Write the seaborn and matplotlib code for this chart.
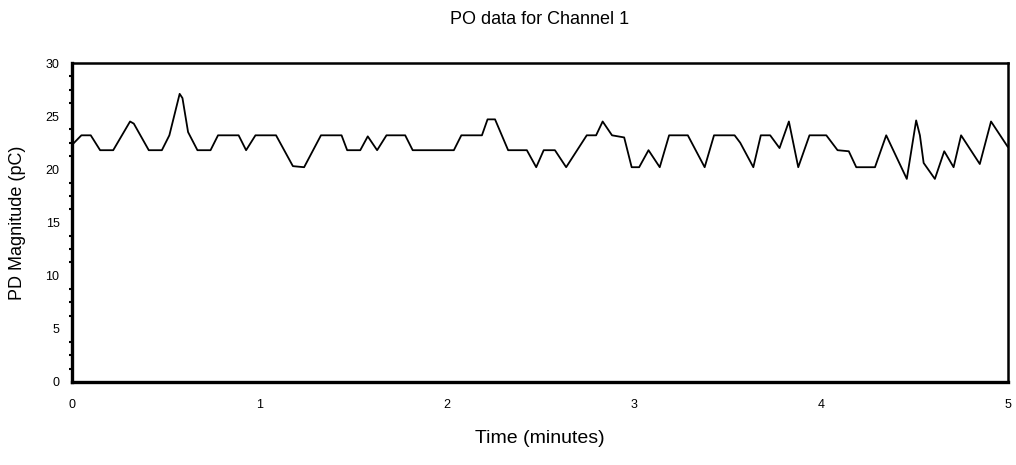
import numpy as np
import pandas as pd
import seaborn as sns
import matplotlib
matplotlib.use("Agg")
import matplotlib.pyplot as plt
from matplotlib.ticker import MultipleLocator

# time in minutes, PD magnitude in pC
time_min = [0.00, 0.05, 0.10, 0.15, 0.22, 0.31, 0.33, 0.41, 0.48, 0.52,
            0.575, 0.59, 0.62, 0.67, 0.74, 0.78, 0.89, 0.93, 0.98, 1.09,
            1.18, 1.24, 1.33, 1.44, 1.47, 1.54, 1.58, 1.63, 1.68, 1.78,
            1.82, 2.04, 2.08, 2.19, 2.22, 2.26, 2.33, 2.43, 2.48, 2.52,
            2.58, 2.64, 2.75, 2.80, 2.835, 2.885, 2.95, 2.99, 3.03, 3.08,
            3.14, 3.19, 3.29, 3.38, 3.43, 3.54, 3.57, 3.64, 3.68, 3.73,
            3.78, 3.83, 3.88, 3.94, 4.03, 4.09, 4.15, 4.19, 4.29, 4.35,
            4.46, 4.51, 4.53, 4.55, 4.61, 4.66, 4.71, 4.75, 4.85, 4.91,
            5.00]
pd_pc = [22.3, 23.2, 23.2, 21.8, 21.8, 24.5, 24.3, 21.8, 21.8, 23.2,
         27.1, 26.7, 23.5, 21.8, 21.8, 23.2, 23.2, 21.8, 23.2, 23.2,
         20.3, 20.2, 23.2, 23.2, 21.8, 21.8, 23.1, 21.8, 23.2, 23.2,
         21.8, 21.8, 23.2, 23.2, 24.7, 24.7, 21.8, 21.8, 20.2, 21.8,
         21.8, 20.2, 23.2, 23.2, 24.5, 23.2, 23.0, 20.2, 20.2, 21.8,
         20.2, 23.2, 23.2, 20.2, 23.2, 23.2, 22.5, 20.2, 23.2, 23.2,
         22.0, 24.5, 20.2, 23.2, 23.2, 21.8, 21.7, 20.2, 20.2, 23.2,
         19.1, 24.6, 23.2, 20.6, 19.1, 21.7, 20.2, 23.2, 20.5, 24.5,
         22.1]

x_ticks = [0, 1, 2, 3, 4, 5]
y_ticks = [0, 5, 10, 15, 20, 25, 30]

df = pd.DataFrame({"t": time_min, "pd": pd_pc})

sns.set_style("white")
plt.rcParams['font.family'] = ['Liberation Sans', 'DejaVu Sans']
plt.rcParams['text.color'] = 'black'
plt.rcParams['axes.labelcolor'] = 'black'
plt.rcParams['xtick.color'] = 'black'
plt.rcParams['ytick.color'] = 'black'

fig = plt.figure(figsize=(10.16, 4.65), dpi=100)
ax = fig.add_axes([0.0709, 0.1785, 0.9211, 0.686])

sns.lineplot(data=df, x="t", y="pd", color="black", linewidth=1.3,
             estimator=None, sort=False, ax=ax)

ax.set_xlim(0, 5)
ax.set_ylim(0, 30)
ax.set_xticks(x_ticks)
ax.set_yticks(y_ticks)
ax.yaxis.set_minor_locator(MultipleLocator(1.25))
ax.tick_params(axis="x", length=0, labelsize=9, pad=12)
ax.tick_params(axis="y", which="major", length=3, width=1.5, labelsize=9, pad=6)
ax.tick_params(axis="y", which="minor", length=2, width=1.5, left=True)

for side in ["left", "bottom"]:
    ax.spines[side].set_linewidth(2.4)
for side in ["top", "right"]:
    ax.spines[side].set_linewidth(1.8)
for sp in ax.spines.values():
    sp.set_color("black")

ax.set_xlabel("Time (minutes)", fontsize=14, labelpad=14)
ax.set_ylabel("PD Magnitude (pC)", fontsize=13, labelpad=14)
ax.set_title("PO data for Channel 1", fontsize=13, pad=28)

fig.savefig("out.png", dpi=100)
